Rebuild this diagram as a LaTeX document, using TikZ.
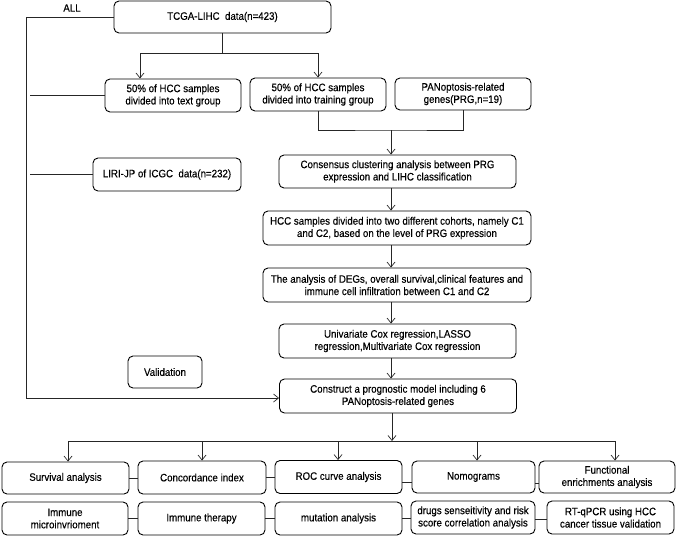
\documentclass[tikz,border=0pt]{standalone}
\usepackage{fontspec}
\setmainfont{Liberation Sans}[FakeStretch=0.9,FakeBold=0.3]
\usetikzlibrary{arrows.meta,calc}
\begin{document}
\begin{tikzpicture}[x=1pt,y=-1pt,
  box/.style={draw=black,line width=0.9pt,rounded corners=5pt,align=center,inner sep=1pt,
    font=\fontsize{10.8}{12.3}\selectfont},
  link/.style={draw=black!85,line width=0.7pt},
  arr/.style={link,-{Straight Barb[length=5pt,width=8pt]}}]
\useasboundingbox (0,0) rectangle (676,536);
% nodes
\node[box,minimum width=217pt,minimum height=32pt] (tcga) at (222.5,17) {TCGA-LIHC\ \ data(n=423)};
\node[font=\fontsize{10.8}{12.3}\selectfont] (all) at (72,8) {ALL};
\node[box,minimum width=136pt,minimum height=33pt] (ntext) at (173,95.5) {50\% of HCC samples\\divided into text group};
\node[box,minimum width=136pt,minimum height=33pt] (ntrain) at (318,94.5) {50\% of HCC samples\\divided into training group};
\node[box,minimum width=136pt,minimum height=32pt] (prg) at (463,94) {PANoptosis-related\\genes(PRG,n=19)};
\node[box,minimum width=148pt,minimum height=33pt] (liri) at (167,174.5) {LIRI-JP of ICGC\ \ data(n=232)};
\node[box,minimum width=237pt,minimum height=33pt] (cons) at (397.5,171.5) {Consensus clustering analysis between PRG\\expression and LIHC classification};
\node[box,minimum width=268pt,minimum height=34pt] (hcc) at (397,228) {HCC samples divided into two different cohorts, namely C1\\and C2, based on the level of PRG expression};
\node[box,minimum width=268pt,minimum height=34pt] (degs) at (397,285) {The analysis of DEGs, overall survival,clinical features and\\immune cell infiltration between C1 and C2};
\node[box,minimum width=237pt,minimum height=34pt] (univ) at (397.5,341) {Univariate Cox regression,LASSO\\regression,Multivariate Cox regression};
\node[box,minimum width=74pt,minimum height=32pt] (valid) at (165,372) {Validation};
\node[box,minimum width=237pt,minimum height=34pt] (constr) at (398,396) {Construct a prognostic model including 6\\PANoptosis-related genes};
% bottom rows
\node[box,minimum width=127pt,minimum height=32pt] (surv) at (65.5,478) {Survival analysis};
\node[box,minimum width=128pt,minimum height=33pt] (conc) at (202,477.5) {Concordance index};
\node[box,minimum width=127pt,minimum height=33pt] (roc) at (338.5,477) {ROC curve analysis};
\node[box,minimum width=123pt,minimum height=32pt] (nomo) at (473.5,477) {Nomograms};
\node[box,minimum width=136pt,minimum height=32pt] (func) at (607,477) {Functional\\enrichments analysis};
\node[box,minimum width=126pt,minimum height=33pt] (imm) at (65,518.5) {Immune\\microinvrioment};
\node[box,minimum width=127pt,minimum height=33pt] (ther) at (201.5,518.5) {Immune therapy};
\node[box,minimum width=127pt,minimum height=33pt] (mut) at (338.5,518.5) {mutation analysis};
\node[box,minimum width=124pt,minimum height=33pt] (drug) at (473,517.5) {drugs senseitivity and risk\\score correlation analysis};
\node[box,minimum width=127pt,minimum height=33pt] (rt) at (610.5,517.5) {RT-qPCR using HCC\\cancer tissue validation};
% coordinates
\coordinate (j1) at (222.5,53);
\coordinate (j2) at (391,130);
\coordinate (cL) at (26,398);
\coordinate (lt) at (30,95.5);
\coordinate (ll) at (30,174.5);
\coordinate (jb) at (392,441);
\coordinate (bl) at (68,441);
\coordinate (br) at (615,441);
% top split
\draw[link] (tcga.south -| j1) -- (j1);
\draw[arr] (j1) -| (ntrain.north);
\draw[arr] (j1) -| ($(ntext.north)+(-33,0)$);
% merge
\draw[link] (ntrain.south) |- (j2) -| (prg.south);
\draw[arr] (j2) -- (j2 |- cons.north);
\draw[arr] (cons.south -| j2) -- (hcc.north -| j2);
\draw[arr] (hcc.south -| j2) -- (degs.north -| j2);
\draw[arr] (degs.south -| j2) -- (univ.north -| j2);
\draw[arr] (univ.south -| j2) -- (constr.north -| j2);
\draw[arr] (constr.south -| jb) -- (jb);
% left line
\draw[arr] (tcga.west) -| (cL) -- (cL -| constr.west);
\draw[link] (lt) -- (ntext.west);
\draw[link] (ll) -- (liri.west);
% bottom distribution
\draw[link] (bl) -- (br);
\draw[arr] (bl) -- (bl |- surv.north);
\draw[arr] (202,441) -- (202,0 |- conc.north);
\draw[arr] (338,441) -- (338,0 |- roc.north);
\draw[arr] (477,441) -- (477,0 |- nomo.north);
\draw[arr] (br) -- (br |- func.north);
% side links
\draw[link] (surv.east) -- (surv.east -| conc.west);
\draw[link] (conc.east) -- (conc.east -| roc.west);
\draw[link] ([yshift=-5pt]roc.east) -- ([yshift=-5pt]roc.east -| nomo.west);
\draw[link] ([yshift=-6pt]nomo.east) -- ([yshift=-6pt]nomo.east -| func.west);
\draw[link] (imm.east) -- (imm.east -| ther.west);
\draw[link] (ther.east) -- (ther.east -| mut.west);
\draw[link] (mut.east) -- (mut.east -| drug.west);
\draw[link] ([yshift=-2pt]drug.east) -- ([yshift=-2pt]drug.east -| rt.west);
\end{tikzpicture}
\end{document}
